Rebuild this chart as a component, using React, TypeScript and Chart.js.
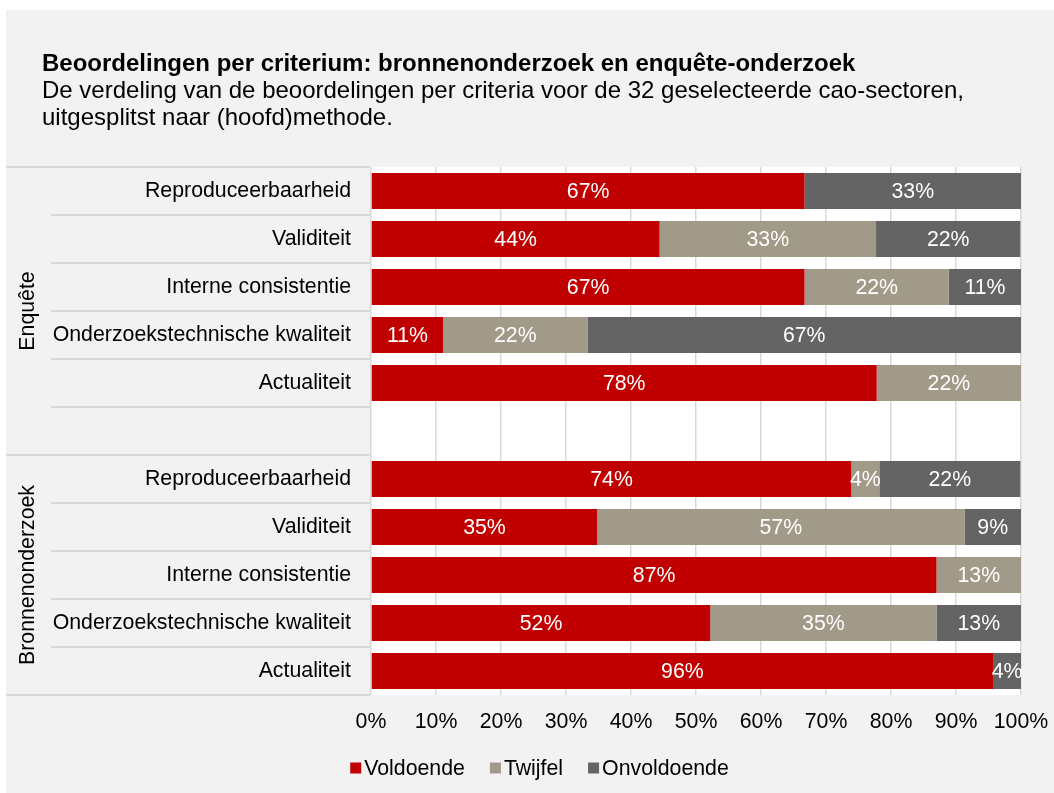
import React, { useEffect, useRef } from 'react';
import { Chart, registerables } from 'chart.js';

Chart.register(...registerables);

const titleText = 'Beoordelingen per criterium: bronnenonderzoek en enquête-onderzoek';
const subtitleLines = [
  'De verdeling van de beoordelingen per criteria voor de 32 geselecteerde cao-sectoren,',
  'uitgesplitst naar (hoofd)methode.',
];

const categories = [
  'Reproduceerbaarheid',
  'Validiteit',
  'Interne consistentie',
  'Onderzoekstechnische kwaliteit',
  'Actualiteit',
  '',
  'Reproduceerbaarheid',
  'Validiteit',
  'Interne consistentie',
  'Onderzoekstechnische kwaliteit',
  'Actualiteit',
];

const groupNames = ['Enquête', 'Bronnenonderzoek'];
const groupStart = [0, 6];
const groupEnd = [5, 10];

const seriesNames = ['Voldoende', 'Twijfel', 'Onvoldoende'];
const voldoende = [66.7, 44.4, 66.7, 11.1, 77.8, null, 73.9, 34.8, 87.0, 52.2, 95.7];
const twijfel = [0, 33.3, 22.2, 22.2, 22.2, null, 4.3, 56.5, 13.0, 34.8, 0];
const onvoldoende = [33.3, 22.2, 11.1, 66.7, 0, null, 21.7, 8.7, 0, 13.0, 4.3];
const seriesColors = ['#c00000', '#a29a88', '#646464'];

const xTickValues = [0, 10, 20, 30, 40, 50, 60, 70, 80, 90, 100];

const FONT = "'Liberation Sans', Arial, sans-serif";
const FS = 21.3;
const BG = '#f2f2f2';
const LINE = '#d9d9d9';

const decorPlugin = {
  id: 'decor',
  beforeDraw(chart: any) {
    const { ctx, chartArea, width, height } = chart;
    ctx.save();
    ctx.fillStyle = BG;
    ctx.fillRect(0, 0, width, height);
    ctx.fillStyle = '#ffffff';
    ctx.fillRect(chartArea.left, chartArea.top, chartArea.right - chartArea.left, chartArea.bottom - chartArea.top);

    // separators in the category label area
    const y = chart.scales.y;
    const n = categories.length;
    const boundaries: number[] = [];
    for (let k = 0; k <= n; k++) {
      let py: number;
      if (k === 0) py = chartArea.top;
      else if (k === n) py = chartArea.bottom;
      else py = (y.getPixelForValue(k - 1) + y.getPixelForValue(k)) / 2;
      boundaries.push(py);
    }
    ctx.strokeStyle = LINE;
    ctx.lineWidth = 2;
    boundaries.forEach((py, k) => {
      const isGroup = k === 0 || k === n || groupStart.includes(k);
      ctx.beginPath();
      ctx.moveTo(isGroup ? 0 : 45, py);
      ctx.lineTo(chartArea.left - 1, py);
      ctx.stroke();
    });

    // group labels
    ctx.fillStyle = '#000000';
    ctx.font = `${FS}px ${FONT}`;
    ctx.textAlign = 'center';
    ctx.textBaseline = 'middle';
    groupNames.forEach((g, i) => {
      const top = boundaries[groupStart[i]];
      const bottom = boundaries[groupEnd[i] + 1];
      ctx.save();
      ctx.translate(22, (top + bottom) / 2);
      ctx.rotate(-Math.PI / 2);
      ctx.fillText(g, 0, 0);
      ctx.restore();
    });

    // title
    ctx.textAlign = 'left';
    ctx.textBaseline = 'alphabetic';
    ctx.font = `bold 24px ${FONT}`;
    ctx.fillText(titleText, 36, 61);
    ctx.font = `24px ${FONT}`;
    subtitleLines.forEach((l, i) => ctx.fillText(l, 36, 88 + i * 27));
    ctx.restore();
  },
  afterDatasetsDraw(chart: any) {
    const { ctx } = chart;
    ctx.save();
    ctx.fillStyle = '#ffffff';
    ctx.font = `${FS}px ${FONT}`;
    ctx.textAlign = 'center';
    ctx.textBaseline = 'middle';
    chart.data.datasets.forEach((ds: any, di: number) => {
      const meta = chart.getDatasetMeta(di);
      meta.data.forEach((bar: any, i: number) => {
        const v = ds.data[i];
        if (v == null || v <= 0) return;
        const cx = (bar.x + bar.base) / 2;
        ctx.fillText(Math.round(v) + '%', cx, bar.y + 1);
      });
    });
    ctx.restore();
  },
  afterDraw(chart: any) {
    const { ctx } = chart;
    ctx.save();
    ctx.font = `${FS}px ${FONT}`;
    ctx.textBaseline = 'middle';
    ctx.textAlign = 'left';
    const box = 11;
    const gapText = 3;
    const gapItem = 25;
    const items = chart.data.datasets.map((ds: any) => ({
      label: ds.label,
      color: ds.backgroundColor,
      w: box + gapText + ctx.measureText(ds.label).width,
    }));
    const total = items.reduce((s: number, it: any) => s + it.w, 0) + gapItem * (items.length - 1);
    let x = 533.5 - total / 2;
    const cy = 758;
    items.forEach((it: any) => {
      ctx.fillStyle = it.color;
      ctx.fillRect(x, cy - box / 2, box, box);
      ctx.fillStyle = '#000000';
      ctx.fillText(it.label, x + box + gapText, cy + 1);
      x += it.w + gapItem;
    });
    ctx.restore();
  },
};

export default function App() {
  const ref = useRef<HTMLCanvasElement | null>(null);
  useEffect(() => {
    if (!ref.current) return;
    const series = [voldoende, twijfel, onvoldoende];
    const chart = new Chart(ref.current, {
      type: 'bar',
      data: {
        labels: categories,
        datasets: series.map((d, i) => ({
          label: seriesNames[i],
          data: d as any,
          backgroundColor: seriesColors[i],
          borderWidth: 0,
          categoryPercentage: 1,
          barPercentage: 0.75,
        })),
      },
      options: {
        indexAxis: 'y',
        responsive: false,
        animation: false,
        layout: { padding: { top: 157, right: 33, bottom: 48, left: 0 } },
        plugins: {
          legend: { display: false },
          title: { display: false },
          tooltip: { enabled: false },
        },
        scales: {
          x: {
            stacked: true,
            min: 0,
            max: 100,
            afterBuildTicks: (scale: any) => {
              scale.ticks = xTickValues.map((v) => ({ value: v }));
            },
            afterFit: (scale: any) => {
              scale.height = 50;
              scale.paddingLeft = 0;
              scale.paddingRight = 0;
            },
            grid: { color: LINE, lineWidth: 1.5, drawTicks: false },
            border: { display: false },
            ticks: {
              padding: 14,
              color: '#000000',
              font: { family: FONT, size: FS },
              callback: (v: any) => v + '%',
            },
          },
          y: {
            stacked: true,
            afterFit: (scale: any) => {
              scale.width = 365;
              scale.paddingTop = 0;
              scale.paddingBottom = 0;
            },
            grid: { display: false, drawTicks: false },
            border: { display: false },
            ticks: {
              autoSkip: false,
              padding: 20,
              color: '#000000',
              font: { family: FONT, size: FS },
            },
          },
        },
      },
      plugins: [decorPlugin],
    } as any);
    return () => chart.destroy();
  }, []);
  return (
    <div style={{ position: 'absolute', left: 6, top: 10, width: 1048, height: 783, background: BG }}>
      <canvas ref={ref} width={1048} height={783} style={{ display: 'block' }} />
    </div>
  );
}
